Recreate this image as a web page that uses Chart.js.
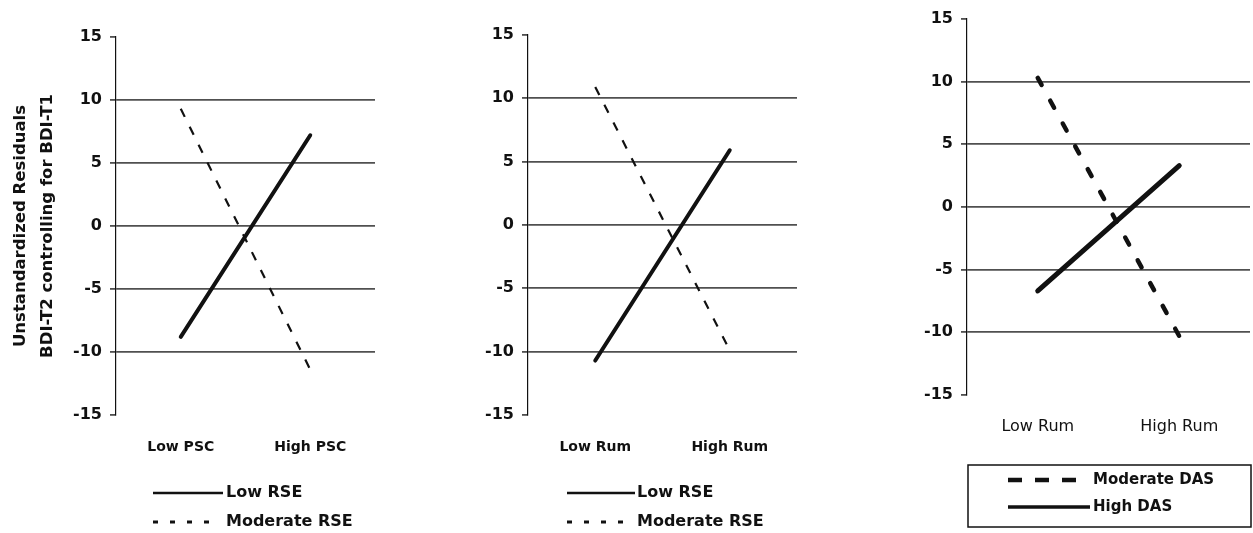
<!DOCTYPE html>
<html>
<head>
<meta charset="utf-8">
<script src="https://cdn.jsdelivr.net/npm/chart.js@4.4.1/dist/chart.umd.min.js"></script>
<style>
  html, body { margin: 0; padding: 0; background: #fff; }
  body { width: 1253px; height: 533px; position: relative; overflow: hidden; }
  .panel { position: absolute; top: 0; height: 533px; }
</style>
</head>
<body>
<div class="panel" style="left:0px;width:400px"><canvas id="chartPsc"></canvas></div>
<div class="panel" style="left:400px;width:420px"><canvas id="chartRum"></canvas></div>
<div class="panel" style="left:860px;width:393px"><canvas id="chartDas"></canvas></div>
<script>
// data
var pscLabels = ['Low PSC', 'High PSC'];
var rumLabels = ['Low Rum', 'High Rum'];
var yTicks = [-15, -10, -5, 0, 5, 10, 15];

var pscLowRSE = [-8.8, 7.2];
var pscModerateRSE = [9.3, -11.4];

var rumLowRSE = [-10.7, 5.9];
var rumModerateRSE = [10.9, -9.9];

var dasModerate = [10.3, -10.3];
var dasHigh = [-6.7, 3.3];

var ink = '#111';
var gridGrey = '#505050';

// simple legend drawn under each panel, one row per item
var lineLegend = {
    id: 'lineLegend',
    afterDraw: function (chart, args, opts) {
        if (!opts || !opts.items) return;
        var ctx = chart.ctx;
        ctx.save();
        if (opts.box) {
            ctx.lineWidth = 1.5;
            ctx.strokeStyle = ink;
            ctx.strokeRect(opts.box[0], opts.box[1], opts.box[2], opts.box[3]);
        }
        opts.items.forEach(function (item, i) {
            var ds = chart.data.datasets[item.dataset];
            var y = opts.y + i * opts.rowGap;
            ctx.beginPath();
            ctx.setLineDash(item.dash || []);
            ctx.lineCap = item.cap || 'butt';
            ctx.lineWidth = item.width;
            ctx.strokeStyle = ds.borderColor;
            ctx.moveTo(opts.x, y);
            ctx.lineTo(opts.x + item.length, y);
            ctx.stroke();
            ctx.setLineDash([]);
            ctx.fillStyle = ink;
            ctx.font = opts.font;
            ctx.textBaseline = 'middle';
            ctx.fillText(ds.label, opts.textX, y);
        });
        ctx.restore();
    }
};

function buildPanel(id, labels, datasets, p) {
    var yTitle = p.title ? {
        display: true,
        text: p.title,
        color: ink,
        font: { family: 'DejaVu Sans', size: 16.5, weight: 'bold', lineHeight: 1.64 },
        padding: { top: 7, bottom: 0 }
    } : { display: false };

    var config = {
        type: 'line',
        data: { labels: labels, datasets: datasets },
        options: {
            responsive: true,
            maintainAspectRatio: false,
            animation: false,
            layout: { padding: { top: p.top, right: p.right, left: 0, bottom: 0 } },
            elements: { point: { radius: 0 }, line: { tension: 0 } },
            scales: {
                x: {
                    offset: true,
                    grid: { display: false, drawTicks: false },
                    border: { display: false },
                    ticks: {
                        color: ink,
                        padding: p.xPad,
                        font: p.xFont
                    },
                    afterFit: function (scale) { scale.height = p.xHeight; }
                },
                y: {
                    min: -15,
                    max: 15,
                    afterBuildTicks: function (scale) {
                        scale.ticks = yTicks.map(function (v) { return { value: v }; });
                    },
                    grid: {
                        color: function (c) {
                            return Math.abs(c.tick.value) === 15 ? 'rgba(0,0,0,0)' : gridGrey;
                        },
                        tickColor: gridGrey,
                        lineWidth: 1.8,
                        tickLength: 6
                    },
                    border: { display: true, color: ink, width: 1.2 },
                    ticks: {
                        color: ink,
                        padding: 8,
                        font: { family: 'DejaVu Sans', size: 16, weight: 'bold' }
                    },
                    title: yTitle,
                    afterFit: function (scale) { scale.width = p.left; }
                }
            },
            plugins: {
                legend: { display: false },
                tooltip: { enabled: false },
                lineLegend: p.legend
            }
        },
        plugins: [lineLegend]
    };
    return new Chart(document.getElementById(id), config);
}

document.addEventListener('DOMContentLoaded', function () {
    var smallBold = { family: 'DejaVu Sans', size: 14, weight: 'bold' };
    var legendFont = 'bold 16px "DejaVu Sans"';

    buildPanel('chartPsc', pscLabels, [
        { label: 'Low RSE', data: pscLowRSE, borderColor: ink, borderWidth: 4, borderCapStyle: 'round' },
        { label: 'Moderate RSE', data: pscModerateRSE, borderColor: ink, borderWidth: 2.2, borderDash: [9, 11] }
    ], {
        title: ['Unstandardized Residuals', 'BDI-T2 controlling for BDI-T1'],
        top: 37, right: 25, left: 116, xHeight: 118, xPad: 24, xFont: smallBold,
        legend: {
            x: 153, textX: 226, y: 493, rowGap: 29, font: legendFont,
            items: [
                { dataset: 0, width: 2.5, length: 70 },
                { dataset: 1, width: 3, length: 60, dash: [5, 12] }
            ]
        }
    });

    buildPanel('chartRum', rumLabels, [
        { label: 'Low RSE', data: rumLowRSE, borderColor: ink, borderWidth: 4, borderCapStyle: 'round' },
        { label: 'Moderate RSE', data: rumModerateRSE, borderColor: ink, borderWidth: 2.2, borderDash: [9, 11] }
    ], {
        top: 35, right: 23, left: 128, xHeight: 118, xPad: 24, xFont: smallBold,
        legend: {
            x: 167, textX: 237, y: 493, rowGap: 29, font: legendFont,
            items: [
                { dataset: 0, width: 2.5, length: 68 },
                { dataset: 1, width: 3, length: 60, dash: [5, 12] }
            ]
        }
    });

    buildPanel('chartDas', rumLabels, [
        { label: 'Moderate DAS', data: dasModerate, borderColor: ink, borderWidth: 4.5, borderDash: [8, 18], borderCapStyle: 'round' },
        { label: 'High DAS', data: dasHigh, borderColor: ink, borderWidth: 5, borderCapStyle: 'round' }
    ], {
        top: 19, right: 3, left: 107, xHeight: 138, xPad: 22,
        xFont: { family: 'DejaVu Sans', size: 16 },
        legend: {
            x: 148, textX: 233, y: 480, rowGap: 27, font: 'bold 15px "DejaVu Sans"',
            box: [108, 465, 283, 62],
            items: [
                { dataset: 0, width: 4.5, length: 68, dash: [14, 13] },
                { dataset: 1, width: 3.5, length: 82 }
            ]
        }
    });
});
</script>
</body>
</html>
